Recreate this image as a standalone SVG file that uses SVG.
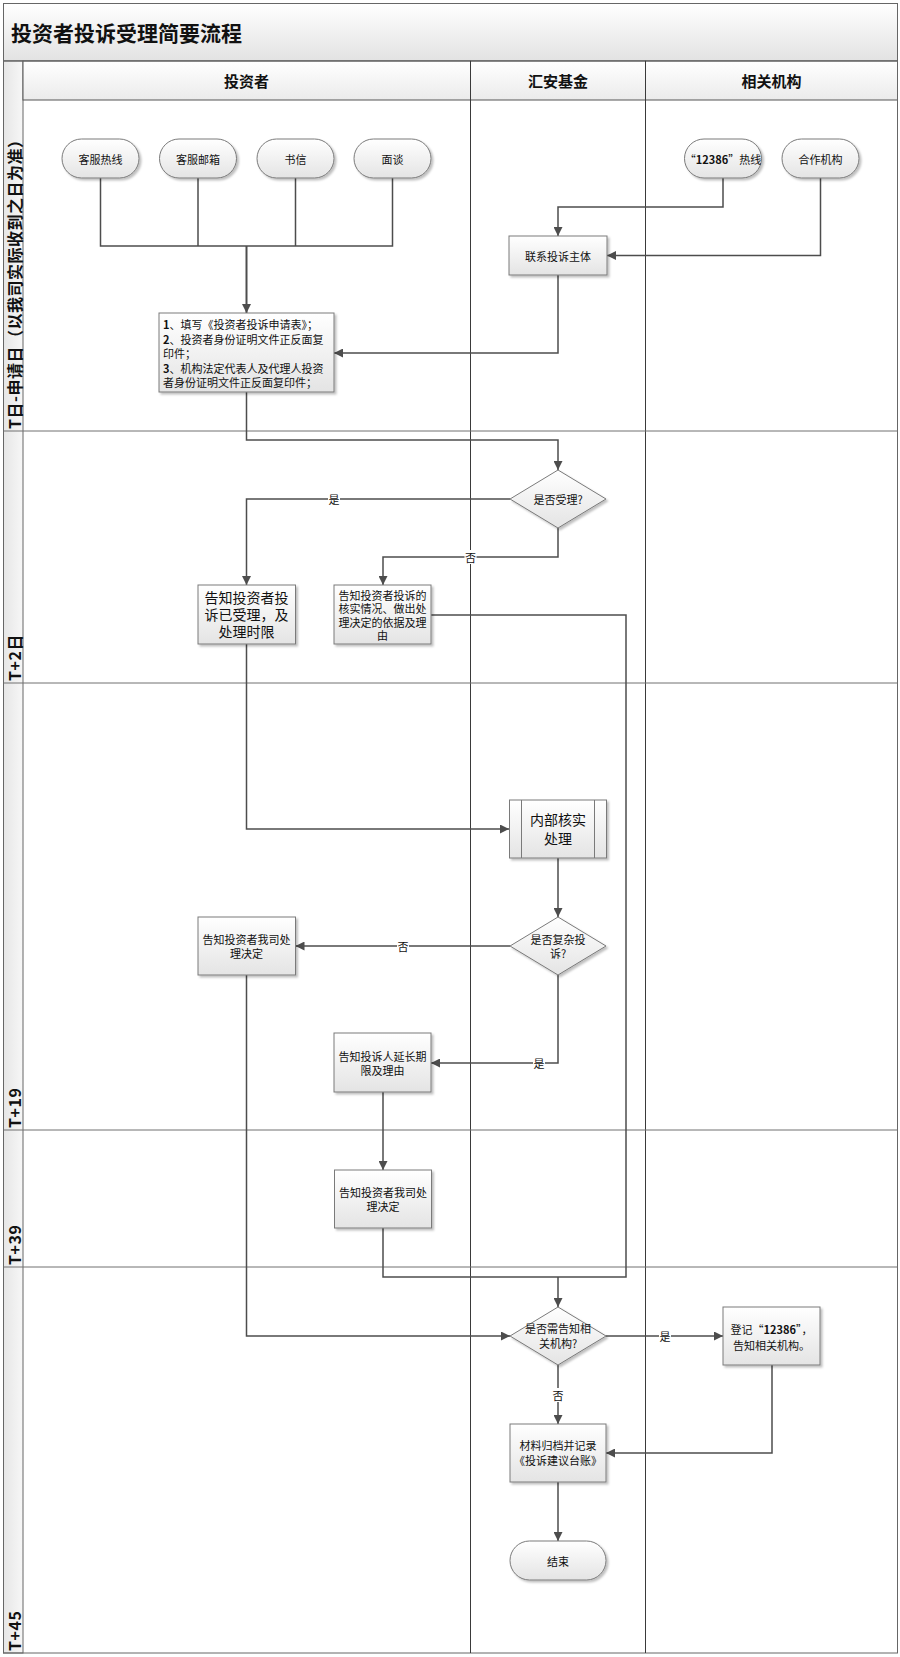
<svg xmlns="http://www.w3.org/2000/svg" width="900" height="1657" viewBox="0 0 900 1657">
<defs>
<style>
text{font-family:"Noto Sans CJK SC","Liberation Sans",sans-serif;fill:#111;}
.t11{font-size:11px;}
.t14{font-size:14px;}
.c{text-anchor:middle;dominant-baseline:central;}
.node{fill:url(#ng);stroke:#7a7a7a;stroke-width:1;filter:url(#sh);}
.conn{fill:none;stroke:#4d4d4d;stroke-width:1.5;}
.arr{marker-end:url(#ah);}
.lane{stroke:#3a3a3a;stroke-width:1;fill:none;}
.row{stroke:#707070;stroke-width:1;fill:none;}
.hdr{font-size:15px;font-weight:bold;}
.side{font-size:16px;font-weight:bold;letter-spacing:0.5px;}
.lbl{fill:#fff;}
</style>
<linearGradient id="ng" x1="0" y1="0" x2="0" y2="1"><stop offset="0" stop-color="#ffffff"/><stop offset="1" stop-color="#e4e4e4"/></linearGradient>
<linearGradient id="tg" x1="0" y1="0" x2="0" y2="1"><stop offset="0" stop-color="#ffffff"/><stop offset="1" stop-color="#e2e2e2"/></linearGradient>
<linearGradient id="hg" x1="0" y1="0" x2="0" y2="1"><stop offset="0" stop-color="#ffffff"/><stop offset="1" stop-color="#ebebeb"/></linearGradient>
<linearGradient id="sg" x1="0" y1="0" x2="1" y2="0"><stop offset="0" stop-color="#e6e6e6"/><stop offset="1" stop-color="#f7f7f7"/></linearGradient>
<filter id="sh" x="-10%" y="-10%" width="125%" height="130%"><feDropShadow dx="2" dy="2" stdDeviation="1" flood-color="#000" flood-opacity="0.25"/></filter>
<marker id="ah" viewBox="0 0 10 10" refX="10" refY="5" markerWidth="10" markerHeight="9" orient="auto" markerUnits="userSpaceOnUse"><path d="M0,0 L10,5 L0,10 z" fill="#4d4d4d"/></marker>
</defs>

<g id="frame">
<rect x="0" y="0" width="900" height="1657" fill="#fff"/>
<rect x="3.5" y="3.5" width="894" height="57.5" fill="url(#tg)" stroke="#666"/>
<text x="11" y="32" style="font-size:21px;font-weight:bold;dominant-baseline:central">投资者投诉受理简要流程</text>
<rect x="3.5" y="61" width="19.5" height="1592" fill="url(#sg)" stroke="#666"/>
<rect x="23" y="61" width="447.5" height="39" fill="url(#hg)" stroke="#555"/>
<rect x="470.5" y="61" width="175" height="39" fill="url(#hg)" stroke="#555"/>
<rect x="645.5" y="61" width="252" height="39" fill="url(#hg)" stroke="#555"/>
<text x="246.5" y="80" class="hdr c">投资者</text>
<text x="558" y="80" class="hdr c">汇安基金</text>
<text x="771.5" y="80" class="hdr c">相关机构</text>
<rect x="3.5" y="61" width="894" height="1592" fill="none" stroke="#666"/>
<path class="lane" d="M470.5,61 V1653 M645.5,61 V1653"/>
<path class="row" d="M3.5,431 H897.5 M3.5,683 H897.5 M3.5,1130 H897.5 M3.5,1267 H897.5"/>
<text class="side" transform="translate(14,429) rotate(-90)" style="dominant-baseline:central">T日-申请日（以我司实际收到之日为准）</text>
<text class="side" transform="translate(14,681) rotate(-90)" style="dominant-baseline:central">T+2日</text>
<text class="side" transform="translate(14,1128) rotate(-90)" style="dominant-baseline:central">T+19</text>
<text class="side" transform="translate(14,1265) rotate(-90)" style="dominant-baseline:central">T+39</text>
<text class="side" transform="translate(14,1651) rotate(-90)" style="dominant-baseline:central">T+45</text>
</g>

<g id="connectors">
<path class="conn" d="M100.5,178 V246 H392.5 V178 M198,178 V246 M295.5,178 V246"/>
<path class="conn arr" d="M246.5,246 V313" style="stroke-width:2"/>
<path class="conn arr" d="M723,178 V207 H558 V236"/>
<path class="conn arr" d="M820.5,178 V255.5 H607"/>
<path class="conn arr" d="M558,275 V353 H334"/>
<path class="conn arr" d="M246.5,392 V440 H558 V470"/>
<path class="conn arr" d="M510,499 H246.5 V585"/>
<path class="conn arr" d="M558,528 V557 H383 V585"/>
<path class="conn arr" d="M246.5,644 V829 H509"/>
<path class="conn" d="M431,615 H626 V1277 H383 V1228"/>
<path class="conn arr" d="M558,1277 V1307"/>
<path class="conn arr" d="M558,858 V917"/>
<path class="conn arr" d="M510,946 H295.5"/>
<path class="conn arr" d="M558,975 V1063 H431"/>
<path class="conn arr" d="M383,1092 V1170"/>
<path class="conn arr" d="M246.5,975 V1336 H510"/>
<path class="conn arr" d="M606,1336 H723"/>
<path class="conn arr" d="M558,1365 V1424"/>
<path class="conn arr" d="M772,1365 V1453 H606"/>
<path class="conn arr" d="M558,1482 V1541"/>
<rect class="lbl" x="328" y="492" width="12" height="14"/><text x="334" y="499" class="t11 c">是</text>
<rect class="lbl" x="464.5" y="550" width="12" height="14"/><text x="470.5" y="557" class="t11 c">否</text>
<rect class="lbl" x="397" y="939" width="12" height="14"/><text x="403" y="946" class="t11 c">否</text>
<rect class="lbl" x="533" y="1056" width="12" height="14"/><text x="539" y="1063" class="t11 c">是</text>
<rect class="lbl" x="659" y="1329" width="12" height="14"/><text x="665" y="1336" class="t11 c">是</text>
<rect class="lbl" x="552" y="1388" width="12" height="14"/><text x="558" y="1395" class="t11 c">否</text>
</g>

<g id="n-hotline"><rect class="node" x="62" y="139" width="77" height="39" rx="19.5"/><text x="100.5" y="158.5" class="t11 c">客服热线</text></g>
<g id="n-email"><rect class="node" x="159.5" y="139" width="77" height="39" rx="19.5"/><text x="198" y="158.5" class="t11 c">客服邮箱</text></g>
<g id="n-letter"><rect class="node" x="257" y="139" width="77" height="39" rx="19.5"/><text x="295.5" y="158.5" class="t11 c">书信</text></g>
<g id="n-meet"><rect class="node" x="354" y="139" width="77" height="39" rx="19.5"/><text x="392.5" y="158.5" class="t11 c">面谈</text></g>
<g id="n-12386"><rect class="node" x="684.5" y="139" width="77" height="39" rx="19.5"/><text x="723" y="158.5" class="t11 c">“<tspan font-weight="bold">12386</tspan>”热线</text></g>
<g id="n-partner"><rect class="node" x="782" y="139" width="77" height="39" rx="19.5"/><text x="820.5" y="158.5" class="t11 c">合作机构</text></g>
<g id="n-contact"><rect class="node" x="509" y="236" width="98" height="39"/><text x="558" y="255.5" class="t11 c">联系投诉主体</text></g>
<g id="n-apply"><rect class="node" x="159" y="313" width="175" height="79"/>
<text class="t11" x="163" style="dominant-baseline:central"><tspan x="163" y="324"><tspan font-weight="bold">1</tspan>、填写《投资者投诉申请表》；</tspan><tspan x="163" y="338.5"><tspan font-weight="bold">2</tspan>、投资者身份证明文件正反面复</tspan><tspan x="163" y="353">印件；</tspan><tspan x="163" y="367.5"><tspan font-weight="bold">3</tspan>、机构法定代表人及代理人投资</tspan><tspan x="163" y="382">者身份证明文件正反面复印件；</tspan></text></g>
<g id="n-accept"><path class="node" d="M558,470 L606,499 L558,528 L510,499 Z"/><text x="558" y="499" class="t11 c">是否受理?</text></g>
<g id="n-notify-accepted"><rect class="node" x="198" y="585" width="97.5" height="59"/><text class="t14 c"><tspan x="246.5" y="597">告知投资者投</tspan><tspan x="246.5" y="614">诉已受理，及</tspan><tspan x="246.5" y="631">处理时限</tspan></text></g>
<g id="n-notify-rejected"><rect class="node" x="334" y="585" width="97" height="59"/><text class="t11 c"><tspan x="382.5" y="594.5">告知投资者投诉的</tspan><tspan x="382.5" y="608">核实情况、做出处</tspan><tspan x="382.5" y="621.5">理决定的依据及理</tspan><tspan x="382.5" y="635">由</tspan></text></g>
<g id="n-internal"><rect class="node" x="509.5" y="800" width="97" height="58"/><path d="M521.5,800 V858 M594.5,800 V858" stroke="#7a7a7a" fill="none"/><text class="t14 c"><tspan x="558" y="819">内部核实</tspan><tspan x="558" y="838">处理</tspan></text></g>
<g id="n-complex"><path class="node" d="M558,917 L606,946 L558,975 L510,946 Z"/><text class="t11 c"><tspan x="558" y="939">是否复杂投</tspan><tspan x="558" y="953">诉?</tspan></text></g>
<g id="n-decision-a"><rect class="node" x="198" y="917" width="97.5" height="58"/><text class="t11 c"><tspan x="246.5" y="939">告知投资者我司处</tspan><tspan x="246.5" y="953">理决定</tspan></text></g>
<g id="n-extend"><rect class="node" x="334" y="1033" width="97" height="59"/><text class="t11 c"><tspan x="382.5" y="1056">告知投诉人延长期</tspan><tspan x="382.5" y="1069.5">限及理由</tspan></text></g>
<g id="n-decision-b"><rect class="node" x="334.5" y="1170" width="97" height="58"/><text class="t11 c"><tspan x="383" y="1192">告知投资者我司处</tspan><tspan x="383" y="1206">理决定</tspan></text></g>
<g id="n-need-notify"><path class="node" d="M558,1307 L606,1336 L558,1365 L510,1336 Z"/><text class="t11 c"><tspan x="558" y="1328">是否需告知相</tspan><tspan x="558" y="1343">关机构?</tspan></text></g>
<g id="n-register"><rect class="node" x="723" y="1307" width="97" height="58"/><text class="t11 c"><tspan x="771.5" y="1329">登记“<tspan font-weight="bold">12386</tspan>”，</tspan><tspan x="771.5" y="1345">告知相关机构。</tspan></text></g>
<g id="n-archive"><rect class="node" x="510" y="1424" width="96" height="58"/><text class="t11 c"><tspan x="558" y="1445">材料归档并记录</tspan><tspan x="558" y="1460">《投诉建议台账》</tspan></text></g>
<g id="n-end"><rect class="node" x="510" y="1541" width="96" height="39" rx="19.5"/><text x="558" y="1560.5" class="t11 c">结束</text></g>
</svg>
